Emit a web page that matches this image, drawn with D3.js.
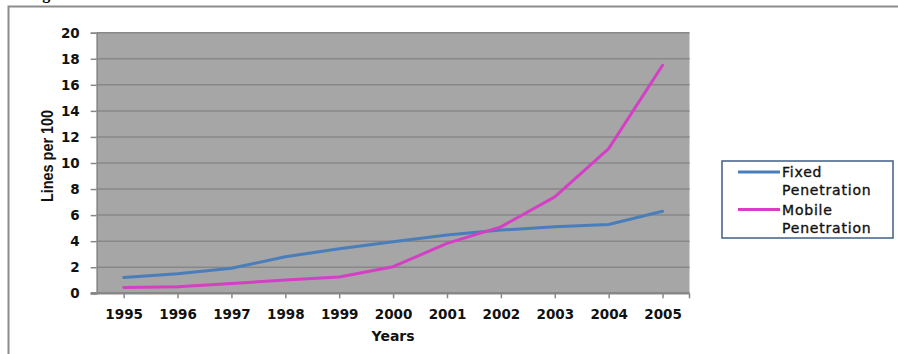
<!DOCTYPE html>
<html>
<head>
<meta charset="utf-8">
<script src="https://cdn.jsdelivr.net/npm/d3@7"></script>
<style>
  html, body { margin: 0; padding: 0; background: #fff; }
  svg { display: block; }
</style>
</head>
<body>
<svg id="chart" width="898" height="354"></svg>
<script>
// Telephone penetration, lines per 100 people
const years = ["1995", "1996", "1997", "1998", "1999", "2000", "2001", "2002", "2003", "2004", "2005"];
const fixedPenetration  = [1.22, 1.5, 1.92, 2.8, 3.42, 3.95, 4.48, 4.85, 5.1, 5.28, 6.3];
const mobilePenetration = [0.45, 0.5, 0.75, 1.02, 1.25, 2.04, 3.83, 5.1, 7.4, 11.1, 17.5];
const yTicks = [0, 2, 4, 6, 8, 10, 12, 14, 16, 18, 20];
const seriesNames = ["Fixed Penetration", "Mobile Penetration"];
const seriesColors = ["#4a7ebb", "#d43fc6"];

const svg = d3.select("#chart");

// Caption above the frame (only its lowest strokes fall inside the page)
svg.append("text")
  .attr("x", 28).attr("y", -1)
  .attr("font-family", "Liberation Serif, Times New Roman, serif")
  .attr("font-weight", "bold")
  .attr("font-size", 16)
  .text("Figure 5: Fixed and Mobile Penetration");

// Chart frame
svg.append("path")
  .attr("d", "M8.5,354 V6.5 H898")
  .attr("fill", "none")
  .attr("stroke", "#8c8c8c")
  .attr("stroke-width", 2);

const plot = { left: 96.7, right: 689.5, top: 32.7, bottom: 293.3 };

const x = d3.scalePoint().domain(years).range([plot.left, plot.right]).padding(0.5);
const y = d3.scaleLinear().domain([0, 20]).range([plot.bottom, plot.top]);

// Plot background
svg.append("rect")
  .attr("x", plot.left).attr("y", plot.top)
  .attr("width", plot.right - plot.left).attr("height", plot.bottom - plot.top)
  .attr("fill", "#a6a6a6");

// Horizontal gridlines
svg.append("g")
  .selectAll("line")
  .data(yTicks.filter(d => d > 0))
  .join("line")
  .attr("x1", plot.left).attr("x2", plot.right)
  .attr("y1", d => y(d)).attr("y2", d => y(d))
  .attr("stroke", "#878787")
  .attr("stroke-width", 1.5);

const tickFont = sel => sel
  .attr("font-family", "DejaVu Sans, Verdana, sans-serif")
  .attr("font-weight", "bold")
  .attr("font-size", 13.5)
  .attr("fill", "#111");

// Y axis
const yAxis = svg.append("g")
  .attr("transform", `translate(${plot.left},0)`)
  .call(d3.axisLeft(y).tickValues(yTicks).tickSize(6).tickPadding(11).tickFormat(d3.format("d")));
yAxis.select(".domain").attr("stroke", "#878787").attr("stroke-width", 1.5);
yAxis.selectAll(".tick line").attr("stroke", "#878787").attr("stroke-width", 1.5);
yAxis.selectAll(".tick text").call(tickFont);

// X axis
const xAxis = svg.append("g")
  .attr("transform", `translate(0,${plot.bottom})`)
  .call(d3.axisBottom(x).tickSize(5).tickPadding(11).tickSizeOuter(0));
xAxis.select(".domain")
  .attr("d", `M${plot.left - 6},0 H${plot.right}`)
  .attr("stroke", "#878787").attr("stroke-width", 2.5);
xAxis.selectAll(".tick line").attr("stroke", "#878787").attr("stroke-width", 1.5);
xAxis.append("line")
  .attr("x1", plot.right).attr("x2", plot.right)
  .attr("y1", 0).attr("y2", 5)
  .attr("stroke", "#878787").attr("stroke-width", 1.5);
xAxis.selectAll(".tick text").call(tickFont);

// Axis titles
svg.append("text")
  .attr("x", x("2000")).attr("y", 341)
  .attr("text-anchor", "middle")
  .attr("font-family", "DejaVu Sans, Verdana, sans-serif")
  .attr("font-weight", "bold")
  .attr("font-size", 14)
  .attr("fill", "#111")
  .text("Years");

svg.append("text")
  .attr("transform", "translate(53,156) rotate(-90)")
  .attr("text-anchor", "middle")
  .attr("font-family", "Liberation Sans Narrow, Liberation Sans, Arial, sans-serif")
  .attr("font-weight", "bold")
  .attr("font-size", 17)
  .attr("textLength", 92)
  .attr("lengthAdjust", "spacingAndGlyphs")
  .attr("fill", "#111")
  .text("Lines per 100");

// Series lines
const line = d3.line()
  .x((d, i) => x(years[i]))
  .y(d => y(d));

[fixedPenetration, mobilePenetration].forEach((values, i) => {
  svg.append("path")
    .datum(values)
    .attr("d", line)
    .attr("fill", "none")
    .attr("stroke", seriesColors[i])
    .attr("stroke-width", 3)
    .attr("stroke-linejoin", "round")
    .attr("stroke-linecap", "round");
});

// Legend
const legend = svg.append("g");
legend.append("rect")
  .attr("x", 722).attr("y", 161)
  .attr("width", 171).attr("height", 77)
  .attr("fill", "#fff")
  .attr("stroke", "#3f5f86")
  .attr("stroke-width", 1.5);

seriesNames.forEach((name, i) => {
  const cy = 172 + i * 37.5;
  legend.append("line")
    .attr("x1", 738).attr("x2", 780)
    .attr("y1", cy).attr("y2", cy)
    .attr("stroke", seriesColors[i])
    .attr("stroke-width", 3);
  const words = name.split(" ");
  const t = legend.append("text")
    .attr("font-family", "DejaVu Sans, Verdana, sans-serif")
    .attr("font-size", 14)
    .attr("letter-spacing", 0.8)
    .attr("fill", "#111")
    .attr("stroke", "#111")
    .attr("stroke-width", 0.35);
  words.forEach((w, j) => {
    t.append("tspan")
      .attr("x", 782)
      .attr("y", cy + 5 + j * 18)
      .text(w);
  });
});
</script>
</body>
</html>
